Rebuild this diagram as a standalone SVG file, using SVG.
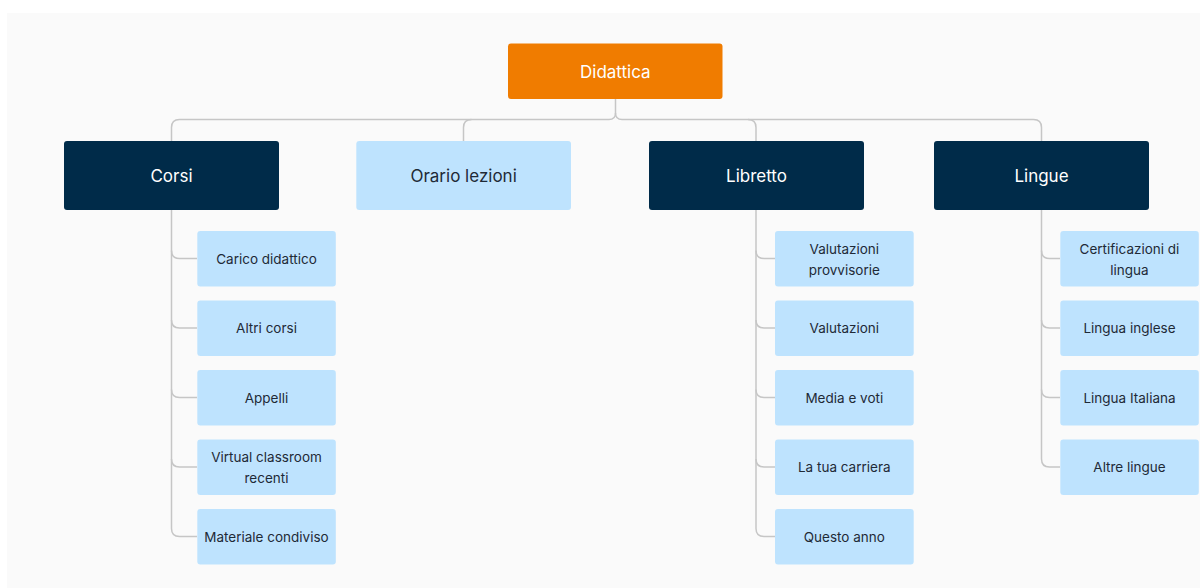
<svg xmlns="http://www.w3.org/2000/svg" width="1200" height="588" viewBox="0 0 1200 588">
<style>
.bg{fill:#fafafa}
.root{fill:#f07c00}
.dark{fill:#002b49}
.light{fill:#bee3fe}
.t{font-family:Inter,"Noto Sans","Liberation Sans",sans-serif;text-anchor:middle;dominant-baseline:central}
.tw{fill:#ffffff;font-size:17px}
.tl{fill:#1f2a37;font-size:17px}
.tc{fill:#1f2a37;font-size:13.5px}
.c{fill:none;stroke:#c6c6c6;stroke-width:1.5}
</style>
<rect x="0" y="0" width="1200" height="588" fill="#ffffff"/>
<rect class="bg" x="7" y="13" width="1193" height="575"/>
<g id="connectors">
<path class="c" d="M615.5,99 V113 Q615.5,119.5 609,119.5 H179.5 Q171.5,119.5 171.5,127.5 V141"/>
<path class="c" d="M463.5,141 V127.5 Q463.5,119.5 471.5,119.5"/>
<path class="c" d="M615.5,113 Q615.5,119.5 622,119.5 H748 Q756,119.5 756,127.5 V141"/>
<path class="c" d="M748,119.5 H1033.5 Q1041.5,119.5 1041.5,127.5 V141"/>
<path class="c" d="M171.5,210 V528.5 Q171.5,536.5 179.5,536.5 H197"/>
<path class="c" d="M171.5,250.5 Q171.5,258.5 179.5,258.5 H197 M171.5,320 Q171.5,328 179.5,328 H197 M171.5,389.5 Q171.5,397.5 179.5,397.5 H197 M171.5,459 Q171.5,467 179.5,467 H197"/>
<path class="c" d="M756,210 V528.5 Q756,536.5 764,536.5 H775"/>
<path class="c" d="M756,250.5 Q756,258.5 764,258.5 H775 M756,320 Q756,328 764,328 H775 M756,389.5 Q756,397.5 764,397.5 H775 M756,459 Q756,467 764,467 H775"/>
<path class="c" d="M1041.5,210 V459 Q1041.5,467 1049.5,467 H1060"/>
<path class="c" d="M1041.5,250.5 Q1041.5,258.5 1049.5,258.5 H1060 M1041.5,320 Q1041.5,328 1049.5,328 H1060 M1041.5,389.5 Q1041.5,397.5 1049.5,397.5 H1060"/>
</g>
<g id="didattica"><rect class="root" x="508" y="43.5" width="214.5" height="55.5" rx="3"/><text class="t tw" x="615.3" y="71.5">Didattica</text></g>
<g id="corsi"><rect class="dark" x="64" y="141" width="215" height="69" rx="3"/><text class="t tw" x="171.5" y="175.5">Corsi</text></g>
<g id="orario"><rect class="light" x="356.3" y="141" width="214.7" height="69" rx="3"/><text class="t tl" x="463.6" y="175.5">Orario lezioni</text></g>
<g id="libretto"><rect class="dark" x="649" y="141" width="215" height="69" rx="3"/><text class="t tw" x="756.5" y="175.5">Libretto</text></g>
<g id="lingue"><rect class="dark" x="934" y="141" width="215" height="69" rx="3"/><text class="t tw" x="1041.5" y="175.5">Lingue</text></g>
<g id="carico"><rect class="light" x="197.3" y="231" width="138.5" height="55.5" rx="3"/><text class="t tc" x="266.5" y="258.7">Carico didattico</text></g>
<g id="altri-corsi"><rect class="light" x="197.3" y="300.5" width="138.5" height="55.5" rx="3"/><text class="t tc" x="266.5" y="328.2">Altri corsi</text></g>
<g id="appelli"><rect class="light" x="197.3" y="370" width="138.5" height="55.5" rx="3"/><text class="t tc" x="266.5" y="397.7">Appelli</text></g>
<g id="virtual"><rect class="light" x="197.3" y="439.5" width="138.5" height="55.5" rx="3"/><text class="t tc" x="266.5" y="457">Virtual classroom</text><text class="t tc" x="266.5" y="478">recenti</text></g>
<g id="materiale"><rect class="light" x="197.3" y="509" width="138.5" height="55.5" rx="3"/><text class="t tc" x="266.5" y="536.7">Materiale condiviso</text></g>
<g id="val-provv"><rect class="light" x="775" y="231" width="138.7" height="55.5" rx="3"/><text class="t tc" x="844.3" y="248.5">Valutazioni</text><text class="t tc" x="844.3" y="269.5">provvisorie</text></g>
<g id="valutazioni"><rect class="light" x="775" y="300.5" width="138.7" height="55.5" rx="3"/><text class="t tc" x="844.3" y="328.2">Valutazioni</text></g>
<g id="media"><rect class="light" x="775" y="370" width="138.7" height="55.5" rx="3"/><text class="t tc" x="844.3" y="397.7">Media e voti</text></g>
<g id="carriera"><rect class="light" x="775" y="439.5" width="138.7" height="55.5" rx="3"/><text class="t tc" x="844.3" y="467.2">La tua carriera</text></g>
<g id="questo-anno"><rect class="light" x="775" y="509" width="138.7" height="55.5" rx="3"/><text class="t tc" x="844.3" y="536.7">Questo anno</text></g>
<g id="certificazioni"><rect class="light" x="1060.3" y="231" width="138.5" height="55.5" rx="3"/><text class="t tc" x="1129.5" y="248.5">Certificazioni di</text><text class="t tc" x="1129.5" y="269.5">lingua</text></g>
<g id="inglese"><rect class="light" x="1060.3" y="300.5" width="138.5" height="55.5" rx="3"/><text class="t tc" x="1129.5" y="328.2">Lingua inglese</text></g>
<g id="italiana"><rect class="light" x="1060.3" y="370" width="138.5" height="55.5" rx="3"/><text class="t tc" x="1129.5" y="397.7">Lingua Italiana</text></g>
<g id="altre-lingue"><rect class="light" x="1060.3" y="439.5" width="138.5" height="55.5" rx="3"/><text class="t tc" x="1129.5" y="467.2">Altre lingue</text></g>
</svg>
